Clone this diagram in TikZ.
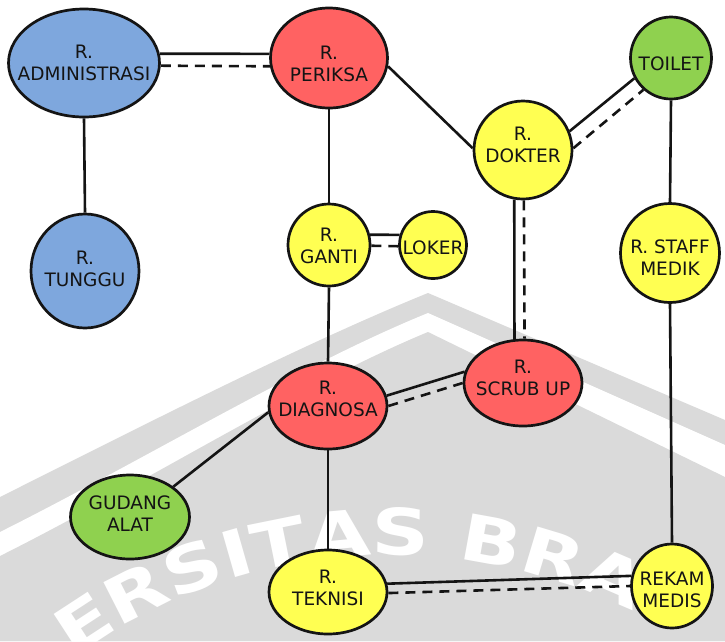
\documentclass[tikz,border=0pt]{standalone}
\usepackage{fontspec}
\setmainfont{DejaVu Sans}
\newfontfamily\markfont[FakeStretch=1.25]{DejaVu Sans}
\usetikzlibrary{shapes.geometric,decorations.text}

\pgfdeclarelayer{backdrop}
\pgfdeclarelayer{links}
\pgfsetlayers{backdrop,links,main}

\definecolor{roomblue}{HTML}{7EA7DD}
\definecolor{roomred}{HTML}{FF6262}
\definecolor{roomyellow}{HTML}{FFFF52}
\definecolor{roomgreen}{HTML}{8FD14F}
\definecolor{logogray}{HTML}{DADADA}
\definecolor{ink}{HTML}{141414}

% room caption that does not enlarge the ellipse; optional argument lowers it (pt)
\newcommand\roomtext[2][0]{\smash{\makebox[0pt]{\raisebox{\dimexpr-6.5pt-#1pt\relax}{\begin{tabular}{@{}c@{}}#2\end{tabular}}}}}

\tikzset{
  room/.style={ellipse, draw=ink, line width=2.7pt, inner sep=0pt, text=ink,
               font=\fontsize{18.5}{21.5}\selectfont},
  bluerm/.style={room, fill=roomblue},
  redrm/.style={room, fill=roomred},
  yellowrm/.style={room, fill=roomyellow},
  greenrm/.style={room, fill=roomgreen},
  link/.style={draw=ink, line width=2.6pt},
  dlink/.style={link, dash pattern=on 10pt off 7pt},
}

\begin{document}
\begin{tikzpicture}[x=1pt,y=-1pt]
\useasboundingbox (0,0) rectangle (725,641);

% rooms
\node[bluerm, minimum width=151pt, minimum height=108pt] (adm) at (84,63) {\roomtext{R.\\ADMINISTRASI}};
\node[bluerm, minimum width=108pt, minimum height=114pt] (tun) at (85,271) {\roomtext[-2]{R.\\TUNGGU}};
\node[redrm, minimum width=117pt, minimum height=100pt] (per) at (329,58) {\roomtext[6]{R.\\PERIKSA}};
\node[yellowrm, minimum width=98pt, minimum height=98pt] (dok) at (523,150) {\roomtext[-5]{R.\\DOKTER}};
\node[greenrm, minimum width=81pt, minimum height=82pt] (toi) at (671,58) {\roomtext[6]{TOILET}};
\node[yellowrm, minimum width=82pt, minimum height=82pt] (gan) at (329,245) {\roomtext[1]{R.\\GANTI}};
\node[yellowrm, minimum width=67pt, minimum height=67pt] (lok) at (433,245) {\roomtext[3]{LOKER}};
\node[yellowrm, minimum width=99pt, minimum height=99pt] (sta) at (670,253) {\roomtext[5]{R. STAFF\\MEDIK}};
\node[redrm, minimum width=118pt, minimum height=86pt] (dia) at (328,406) {\roomtext[-7]{R.\\DIAGNOSA}};
\node[redrm, minimum width=118pt, minimum height=86pt] (scr) at (523,383) {\roomtext[-5]{R.\\SCRUB UP}};
\node[greenrm, minimum width=119pt, minimum height=84pt] (gud) at (130,517) {\roomtext[-3]{GUDANG\\ALAT}};
\node[yellowrm, minimum width=118pt, minimum height=84pt] (tek) at (328,592) {\roomtext[-4]{R.\\TEKNISI}};
\node[yellowrm, minimum width=81pt, minimum height=84pt] (rek) at (672,586) {\roomtext[4]{REKAM\\MEDIS}};

% connections (solid = wall link, dashed = door)
\begin{pgfonlayer}{links}
  \draw[link]  (adm.7)   -- (per.176);
  \draw[dlink] (adm.-2)  -- (per.188);
  \draw[link]  (adm.south) -- (tun.north);
  \draw[link]  (per.south) -- (gan.north);
  \draw[link]  (per.-8)  -- (dok.178);
  \draw[link]  (dok.22)  -- (toi.209);
  \draw[dlink] (dok.2)   -- (toi.229);
  \draw[link]  (toi.south) -- (sta.north);
  \draw[link]  (gan.14)  -- (lok.163);
  \draw[dlink] (gan.-1)  -- (lok.182);
  \draw[link]  (dok.260) -- (scr.101);
  \draw[dlink] (dok.271) -- (scr.88);
  \draw[link]  (gan.south) -- (dia.north);
  \draw[link]  (dia.10)  -- (scr.169);
  \draw[dlink] (dia.0)   -- (scr.180);
  \draw[link]  (dia.186) -- (gud.35);
  \draw[link]  (dia.south) -- (tek.north);
  \draw[link]  (sta.south) -- (rek.north);
  \draw[link]  (tek.8)   -- (rek.166);
  \draw[dlink] (tek.-1)  -- (rek.180);
\end{pgfonlayer}

% campus emblem in the background
\begin{pgfonlayer}{backdrop}
  \begin{scope}
    \clip (0,0) rectangle (725,641);
    \fill[white] (0,0) rectangle (725,641);
    \fill[logogray] (0,497) .. controls (140,427) and (300,345) .. (428,293)
      -- (725,420) -- (725,641) -- (0,641) -- cycle;
    \fill[white] (0,532) .. controls (140,462) and (300,365) .. (428,313)
      -- (725,445) -- (725,641) -- (0,641) -- cycle;
    \fill[logogray] (0,556) .. controls (140,486) and (300,385) .. (428,332)
      -- (725,477) -- (725,641) -- (0,641) -- cycle;
    \path[decorate, decoration={text along path, text align=left,
        text={|\markfont\bfseries\fontsize{64}{64}\selectfont\color{white}|ERSITAS BRA}}]
      (73.6,658.1) arc[start angle=126, end angle=50, radius=540pt];
  \end{scope}
\end{pgfonlayer}
\end{tikzpicture}
\end{document}
